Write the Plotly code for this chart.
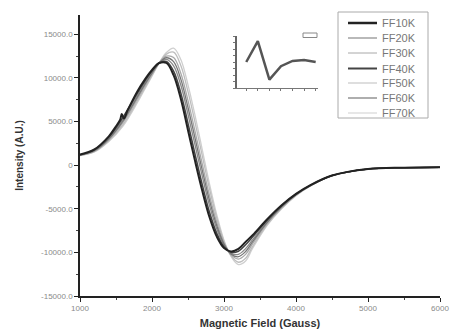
import plotly.graph_objects as go

field = [1000, 1200, 1400, 1600, 1800, 1900, 2000, 2100, 2200, 2300, 2400, 2500,
         2600, 2700, 2800, 2900, 3000, 3100, 3200, 3300, 3400, 3600, 3800, 4000,
         4200, 4500, 5000, 5500, 6000]

field_10k = [1000, 1200, 1400, 1500, 1560, 1580, 1610, 1660, 1800, 1900, 2000, 2100,
             2200, 2300, 2400, 2500, 2600, 2700, 2800, 2900, 3000, 3100, 3200, 3300,
             3400, 3600, 3800, 4000, 4200, 4500, 5000, 5500, 6000]
ff10k = [1200, 1800, 3300, 4450, 5250, 5850, 5350, 6250, 8500, 9800, 10900, 11700,
         11700, 10300, 7600, 4000, 400, -3000, -6000, -8200, -9500, -9900, -9600, -8800,
         -8000, -6200, -4600, -3300, -2300, -1200, -450, -300, -250]

ff20k = [1170, 1700, 3090, 5280, 8050, 9420, 10650, 11700, 12120, 11380, 9180, 5820,
         2220, -1350, -4670, -7320, -9180, -10110, -10230, -9570, -8520, -6450, -4740, -3370,
         -2340, -1200, -450, -300, -250]
ff30k = [1140, 1600, 2910, 4920, 7650, 9080, 10450, 11700, 12480, 12320, 10520, 7380,
         3780, 50, -3530, -6580, -8920, -10290, -10770, -10230, -8980, -6650, -4860, -3430,
         -2360, -1200, -450, -300, -250]
ff40k = [1190, 1750, 3210, 5520, 8300, 9640, 10800, 11700, 11880, 10760, 8280, 4780,
         1180, -2300, -5430, -7820, -9360, -9990, -9870, -9130, -8220, -6300, -4660, -3330,
         -2320, -1200, -450, -300, -250]
ff50k = [1120, 1550, 2790, 4680, 7400, 8860, 10300, 11700, 12720, 12940, 11420, 8420,
         4820, 1000, -2770, -6080, -8740, -10410, -11130, -10670, -9280, -6800, -4940, -3470,
         -2380, -1200, -450, -300, -250]
ff60k = [1150, 1650, 3000, 5100, 7850, 9250, 10550, 11700, 12300, 11850, 9850, 6600,
         3000, -650, -4100, -6950, -9050, -10200, -10500, -9900, -8750, -6550, -4800, -3400,
         -2350, -1200, -450, -300, -250]
ff70k = [1100, 1500, 2700, 4500, 7200, 8700, 10200, 11700, 12900, 13400, 12100, 9200,
         5600, 1700, -2200, -5700, -8600, -10500, -11400, -11000, -9500, -6900, -5000, -3500,
         -2400, -1200, -450, -300, -250]

series_names = ["FF10K", "FF20K", "FF30K", "FF40K", "FF50K", "FF60K", "FF70K"]
series_x = [field_10k, field, field, field, field, field, field]
series_y = [ff10k, ff20k, ff30k, ff40k, ff50k, ff60k, ff70k]
colors = ["#222222", "#8a8a8a", "#a8a8a8", "#444444", "#bdbdbd", "#777777", "#cfcfcf"]
widths = [2.0, 1.3, 1.3, 1.5, 1.3, 1.3, 1.3]
legend_widths = [2.5, 1.2, 1.0, 2.0, 1.0, 1.2, 1.0]

x_ticks = [1000, 2000, 3000, 4000, 5000, 6000]
x_labels = ["1000", "2000", "3000", "4000", "5000", "6000"]
y_ticks = [-15000, -10000, -5000, 0, 5000, 10000, 15000]
y_labels = ["-15000.0", "-10000.0", "-5000.0", "0", "5000.0", "10000.0", "15000.0"]

inset_x = [10, 20, 30, 40, 50, 60, 70]
inset_y = [5.0, 9.0, 1.6, 4.2, 5.2, 5.4, 5.0]

fig = go.Figure()
order = [6, 4, 2, 1, 5, 3, 0]
for i in order:
    fig.add_trace(go.Scatter(
        x=series_x[i], y=series_y[i], mode="lines", name=series_names[i],
        line=dict(color=colors[i], width=widths[i], shape="spline", smoothing=1.0),
        showlegend=False,
    ))

fig.add_trace(go.Scatter(
    x=inset_x, y=inset_y, mode="lines", showlegend=False,
    line=dict(color="#555555", width=2.5),
    xaxis="x2", yaxis="y2",
))

W, H = 451, 333
ml, mr, mt, mb = 80, 11, 15, 37
pw, ph = W - ml - mr, H - mt - mb

def px_to_dom_x(p):
    return (p - ml) / pw

def px_to_dom_y(p):
    return 1 - (p - mt) / ph

shapes = [dict(type="rect", xref="paper", yref="paper",
               x0=px_to_dom_x(303), x1=px_to_dom_x(317),
               y0=px_to_dom_y(37.5), y1=px_to_dom_y(33),
               line=dict(color="#888", width=1), fillcolor="white")]
annotations = []

shapes.append(dict(type="rect", xref="paper", yref="paper",
                   x0=px_to_dom_x(338), x1=px_to_dom_x(428),
                   y0=px_to_dom_y(118), y1=px_to_dom_y(12),
                   line=dict(color="#aaaaaa", width=1), fillcolor="white", layer="above"))
row_y = [23, 38, 53, 68.5, 83, 98, 113]
for i, name in enumerate(series_names):
    yy = px_to_dom_y(row_y[i])
    shapes.append(dict(type="line", xref="paper", yref="paper",
                       x0=px_to_dom_x(348), x1=px_to_dom_x(377), y0=yy, y1=yy,
                       line=dict(color=colors[i], width=legend_widths[i]), layer="above"))
    annotations.append(dict(xref="paper", yref="paper", x=px_to_dom_x(380), y=yy,
                            xanchor="left", yanchor="middle", text=name, showarrow=False,
                            font=dict(size=11, color="#777777")))

fig.update_layout(
    width=W, height=H,
    margin=dict(l=ml, r=mr, t=mt, b=mb, autoexpand=False),
    paper_bgcolor="white", plot_bgcolor="white",
    font=dict(family="Liberation Sans, Arial, sans-serif", color="#333"),
    showlegend=False,
    xaxis=dict(
        range=[1000, 6000], tickvals=x_ticks, ticktext=x_labels,
        showgrid=False, zeroline=False, showline=True, linecolor="#222", linewidth=1.5,
        ticks="outside", ticklen=4, tickcolor="#222", tickwidth=1,
        minor=dict(ticks="outside", ticklen=2, dtick=500, tickcolor="#444"),
        tickfont=dict(size=8, color="#8a8a8a"),
        title=dict(text="<b>Magnetic Field (Gauss)</b>", font=dict(size=11, color="#333"), standoff=7),
    ),
    yaxis=dict(
        range=[-15000, 17200], tickvals=y_ticks, ticktext=y_labels,
        showgrid=False, zeroline=False, showline=True, linecolor="#222", linewidth=1.5,
        ticks="outside", ticklen=4, tickcolor="#222", tickwidth=1,
        minor=dict(ticks="outside", ticklen=2, dtick=2500, tickcolor="#444"),
        tickfont=dict(size=8, color="#8a8a8a"),
        title=dict(text="<b>Intensity (A.U.)</b>", font=dict(size=10, color="#333"), standoff=16),
    ),
    xaxis2=dict(
        domain=[px_to_dom_x(237), px_to_dom_x(318)], anchor="y2",
        range=[2, 72], showgrid=False, zeroline=False, showline=True,
        linecolor="#777", linewidth=1, ticks="outside", ticklen=2, tickcolor="#777",
        dtick=10, showticklabels=False,
    ),
    yaxis2=dict(
        domain=[px_to_dom_y(88), px_to_dom_y(36)], anchor="x2",
        range=[0, 10], showgrid=False, zeroline=False, showline=True,
        linecolor="#666", linewidth=1.5, ticks="outside", ticklen=2, tickcolor="#777",
        dtick=1.25, showticklabels=False,
    ),
    shapes=shapes,
    annotations=annotations,
)

fig.write_html("out.html")
